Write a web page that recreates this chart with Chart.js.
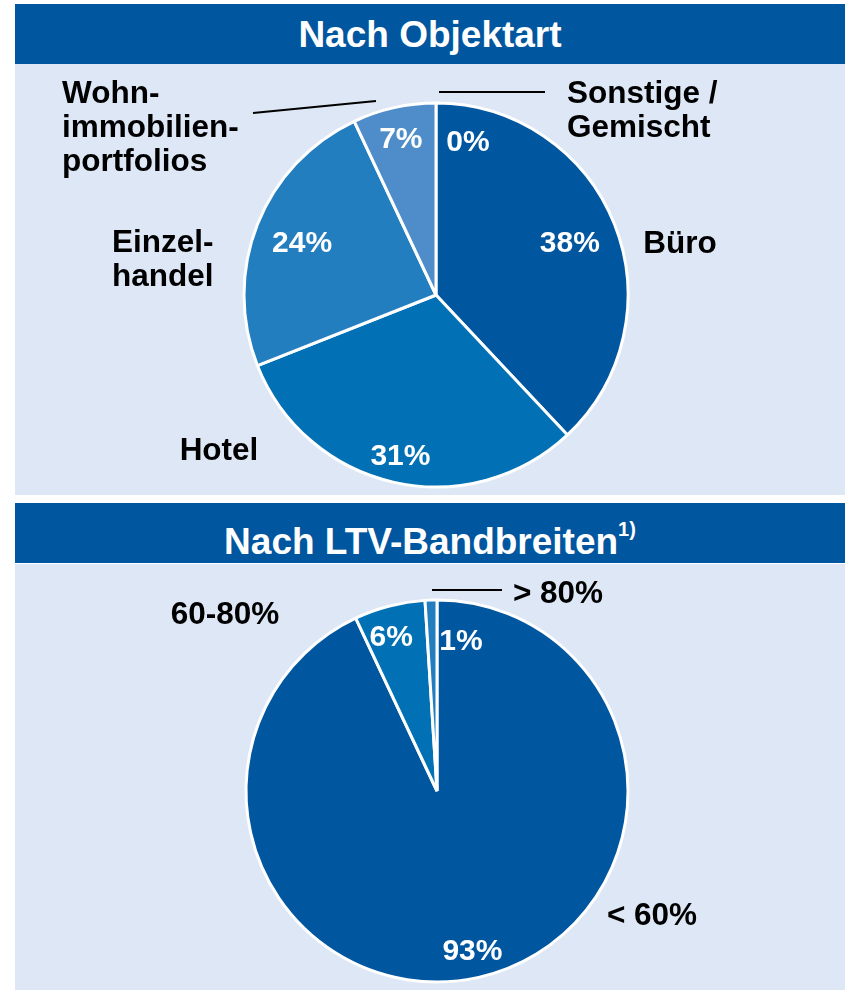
<!DOCTYPE html>
<html lang="de">

<head>
    <meta charset="UTF-8">
    <meta name="viewport" content="width=device-width, initial-scale=1.0">
    <title>Portfolio-Struktur</title>

    <!-- Chart.js library -->
    <script src="https://cdn.jsdelivr.net/npm/chart.js"></script>

    <style>
        body {
            margin: 0;
            background: #ffffff;
            font-family: "Liberation Sans", Arial, sans-serif;
        }

        .bar {
            position: absolute;
            left: 15px;
            width: 830px;
            height: 60px;
            background: #0156a0;
            color: #ffffff;
            font-weight: bold;
            font-size: 37px;
            line-height: 62px;
            text-align: center;
        }

        .bar sup {
            font-size: 20px;
            position: relative;
            top: -5px;
        }

        .panel {
            position: absolute;
            left: 15px;
            width: 830px;
            background: #dee7f5;
        }
    </style>
</head>

<body>

    <div class="bar" style="top: 4px;">Nach Objektart</div>
    <div class="panel" style="top: 64px; height: 431px;">
        <canvas id="objektChart" width="830" height="431"></canvas>
    </div>

    <div class="bar" style="top: 503px;">Nach LTV-Bandbreiten<sup>1)</sup></div>
    <div class="panel" style="top: 564px; height: 426px;">
        <canvas id="ltvChart" width="830" height="426"></canvas>
    </div>

    <script>
        // Nach Objektart (Anteile in %), im Uhrzeigersinn ab 12 Uhr
        var objektLabels = ['Sonstige / Gemischt', 'Büro', 'Hotel', 'Einzelhandel', 'Wohnimmobilienportfolios'];
        var objektValues = [0, 38, 31, 24, 7];

        // Nach LTV-Bandbreiten (Anteile in %)
        var ltvLabels = ['< 60%', '60-80%', '> 80%'];
        var ltvValues = [93, 6, 1];

        var FONT = '"Liberation Sans", Arial, sans-serif';

        // Prozentwerte in den Segmenten: Radiusfaktor und Winkelversatz (Grad)
        function drawPercents(chart, place) {
            var ctx = chart.ctx;
            var meta = chart.getDatasetMeta(0);
            var values = chart.data.datasets[0].data;
            ctx.save();
            ctx.fillStyle = '#ffffff';
            ctx.font = 'bold 30px ' + FONT;
            ctx.textAlign = 'center';
            ctx.textBaseline = 'middle';
            meta.data.forEach(function (arc, i) {
                var p = arc.getProps(['x', 'y', 'startAngle', 'endAngle', 'outerRadius'], true);
                var mid = (p.startAngle + p.endAngle) / 2 + place[i].shift * Math.PI / 180;
                var r = p.outerRadius * place[i].f;
                ctx.fillText(values[i] + '%', p.x + Math.cos(mid) * r, p.y + Math.sin(mid) * r + 2);
            });
            ctx.restore();
        }

        // Beschriftungen außerhalb des Kreises, relativ zum Mittelpunkt
        function drawOuter(chart, texts, lines) {
            var ctx = chart.ctx;
            var arc = chart.getDatasetMeta(0).data[0];
            var cx = arc.x, cy = arc.y;
            ctx.save();
            ctx.fillStyle = '#000000';
            ctx.font = 'bold 31.5px ' + FONT;
            ctx.textBaseline = 'middle';
            texts.forEach(function (t) {
                ctx.textAlign = t.align;
                t.rows.forEach(function (row, k) {
                    ctx.fillText(row, cx + t.dx, cy + t.dy + 3 + k * 34);
                });
            });
            ctx.strokeStyle = '#000000';
            ctx.lineWidth = 2;
            lines.forEach(function (l) {
                ctx.beginPath();
                ctx.moveTo(cx + l[0], cy + l[1]);
                ctx.lineTo(cx + l[2], cy + l[3]);
                ctx.stroke();
            });
            ctx.restore();
        }

        function makePie(id, labels, values, colors, padding, labelPlugin) {
            var ctx = document.getElementById(id).getContext('2d');
            return new Chart(ctx, {
                type: 'pie',
                data: {
                    labels: labels,
                    datasets: [{
                        data: values,
                        backgroundColor: colors,
                        borderColor: '#ffffff',
                        borderWidth: 3
                    }]
                },
                options: {
                    responsive: false,
                    animation: false,
                    devicePixelRatio: 1,
                    layout: { padding: padding },
                    plugins: {
                        legend: { display: false },
                        tooltip: { enabled: false }
                    }
                },
                plugins: [labelPlugin]
            });
        }

        makePie('objektChart', objektLabels, objektValues,
            ['#0156a0', '#0156a0', '#0170b4', '#237ec0', '#4e8dc9'],
            { top: 37.5, bottom: 6.5, left: 227.5, right: 215.5 },
            {
                id: 'objektLabels',
                afterDatasetsDraw: function (chart) {
                    drawPercents(chart, [
                        { f: 0.82, shift: 11.7 },
                        { f: 0.75, shift: 0 },
                        { f: 0.85, shift: 0 },
                        { f: 0.75, shift: 0 },
                        { f: 0.84, shift: 0 }
                    ]);
                    drawOuter(chart, [
                        { rows: ['Büro'], dx: 244, dy: -54, align: 'center' },
                        { rows: ['Hotel'], dx: -217, dy: 153, align: 'center' },
                        { rows: ['Einzel-', 'handel'], dx: -324, dy: -55, align: 'left' },
                        { rows: ['Wohn-', 'immobilien-', 'portfolios'], dx: -374, dy: -204, align: 'left' },
                        { rows: ['Sonstige /', 'Gemischt'], dx: 131, dy: -204, align: 'left' }
                    ], [
                        [-183, -182, -60, -194],
                        [3, -203, 109, -203]
                    ]);
                }
            });

        makePie('ltvChart', ltvLabels, ltvValues,
            ['#0156a0', '#0170b4', '#237ec0'],
            { top: 34.5, bottom: 6.5, left: 229.5, right: 215.5 },
            {
                id: 'ltvLabels',
                afterDatasetsDraw: function (chart) {
                    drawPercents(chart, [
                        { f: 0.85, shift: 0 },
                        { f: 0.85, shift: -2 },
                        { f: 0.8, shift: 10.8 }
                    ]);
                    drawOuter(chart, [
                        { rows: ['60-80%'], dx: -212, dy: -179, align: 'center' },
                        { rows: ['> 80%'], dx: 121, dy: -200, align: 'center' },
                        { rows: ['< 60%'], dx: 215, dy: 122, align: 'center' }
                    ], [
                        [-5, -201, 65, -201]
                    ]);
                }
            });
    </script>

</body>

</html>
